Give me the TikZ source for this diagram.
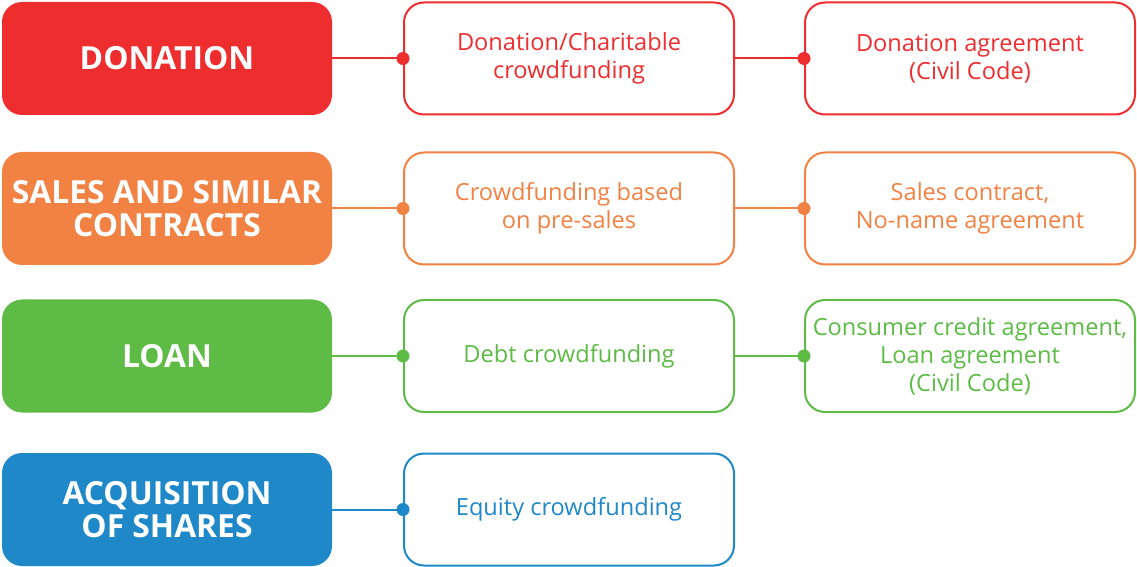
\documentclass[tikz,border=0pt]{standalone}
\usepackage{fontspec}
\setmainfont{Open Sans}
\definecolor{donred}{HTML}{EE2D2F}
\definecolor{salorange}{HTML}{F28244}
\definecolor{loangreen}{HTML}{5DBB46}
\definecolor{shareblue}{HTML}{1E88C8}
\tikzset{
  cat/.style={fill=#1, draw=none, rounded corners=10pt, minimum width=165pt, minimum height=56.5pt,
    text=white, font=\fontsize{15.9}{16.5}\selectfont\bfseries, align=center, inner sep=0pt},
  kind/.style={draw=#1, line width=1pt, fill=white, rounded corners=10pt, minimum width=165pt, minimum height=56pt,
    text=#1, font=\fontsize{11.8}{14}\selectfont, align=center, inner sep=0pt},
  link/.style={draw=#1, line width=1pt},
  dot/.style={fill=#1, draw=none, circle, minimum size=6.5pt, inner sep=0pt}
}
\begin{document}
\begin{tikzpicture}[x=0.5pt,y=-0.5pt]
\useasboundingbox (0,0) rectangle (1137,567);
% first column
\node[cat=donred] (don) at (167,58.5) {DONATION};
\node[cat=salorange] (sal) at (167,208.5) {SALES AND SIMILAR\\CONTRACTS};
\node[cat=loangreen] (loan) at (167,356) {LOAN};
\node[cat=shareblue] (share) at (167,509.5) {ACQUISITION\\OF SHARES};
% second column
\node[kind=donred] (donkind) at (569,58.5) {Donation/Charitable\\crowdfunding};
\node[kind=salorange] (salkind) at (569,208.5) {Crowdfunding based\\on pre-sales};
\node[kind=loangreen] (loankind) at (569,356) {Debt crowdfunding};
\node[kind=shareblue] (sharekind) at (569,509.5) {Equity crowdfunding};
% third column
\node[kind=donred] (donlaw) at (970,58.5) {Donation agreement\\(Civil Code)};
\node[kind=salorange] (sallaw) at (970,208.5) {Sales contract,\\No-name agreement};
\node[kind=loangreen] (loanlaw) at (970,356) {Consumer credit agreement,\\Loan agreement\\(Civil Code)};
% connectors
\draw[link=donred] (don.east) -- (donkind.west);
\draw[link=donred] (donkind.east) -- (donlaw.west);
\draw[link=salorange] (sal.east) -- (salkind.west);
\draw[link=salorange] (salkind.east) -- (sallaw.west);
\draw[link=loangreen] (loan.east) -- (loankind.west);
\draw[link=loangreen] (loankind.east) -- (loanlaw.west);
\draw[link=shareblue] (share.east) -- (sharekind.west);
\node[dot=donred] (d1) at (donkind.west) {};
\node[dot=donred] (d2) at (donlaw.west) {};
\node[dot=salorange] (d3) at (salkind.west) {};
\node[dot=salorange] (d4) at (sallaw.west) {};
\node[dot=loangreen] (d5) at (loankind.west) {};
\node[dot=loangreen] (d6) at (loanlaw.west) {};
\node[dot=shareblue] (d7) at (sharekind.west) {};
\end{tikzpicture}
\end{document}
